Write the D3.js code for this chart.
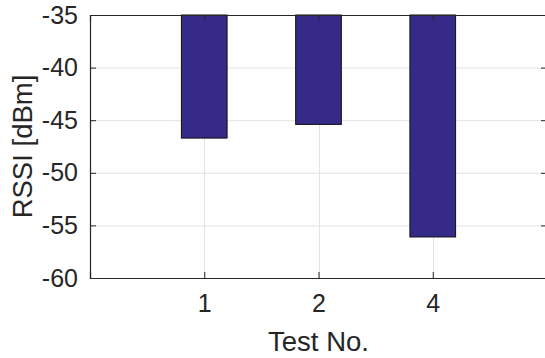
<!DOCTYPE html>
<html>
<head>
<meta charset="utf-8">
<script src="https://cdn.jsdelivr.net/npm/d3@7"></script>
<style>
  body { margin: 0; background: #fff; }
  text { font-family: "Liberation Sans", Arial, sans-serif; fill: #262626; }
</style>
</head>
<body>
<svg id="chart" width="545" height="358"></svg>
<script>
// Data.
const testLabels = ["1", "2", "4"];
const rssiValues = [-46.7, -45.4, -56.1];
const yTicks = [-60, -55, -50, -45, -40, -35];

const width = 545,
      height = 358,
      margin = { top: 15, right: -2, bottom: 80, left: 90 };

const svg = d3.select("#chart");

const plotW = width - margin.left - margin.right;
const plotH = height - margin.top - margin.bottom;

// Categories sit at 1..n, axis runs from 0 to n+1 (MATLAB style).
const x = d3.scaleLinear()
  .domain([0, testLabels.length + 1])
  .range([0, plotW]);

const y = d3.scaleLinear()
  .domain([-60, -35])
  .range([plotH, 0]);

const g = svg.append("g")
  .attr("transform", `translate(${margin.left},${margin.top})`);

const xPos = testLabels.map((d, i) => i + 1);

// Grid lines.
g.append("g")
  .selectAll("line")
  .data(yTicks)
  .join("line")
  .attr("x1", 0)
  .attr("x2", plotW)
  .attr("y1", d => y(d) + 0.5)
  .attr("y2", d => y(d) + 0.5)
  .attr("stroke", "#e3e3e3")
  .attr("stroke-width", 1);

g.append("g")
  .selectAll("line")
  .data(xPos)
  .join("line")
  .attr("x1", d => Math.round(x(d)) + 0.5)
  .attr("x2", d => Math.round(x(d)) + 0.5)
  .attr("y1", 0)
  .attr("y2", plotH)
  .attr("stroke", "#e3e3e3")
  .attr("stroke-width", 1);

// Bars hang down from the top of the axis (base value -35).
const barW = x(0.4) - x(0);
g.append("g")
  .selectAll("rect")
  .data(rssiValues)
  .join("rect")
  .attr("x", (d, i) => x(xPos[i]) - barW / 2)
  .attr("y", y(-35))
  .attr("width", barW)
  .attr("height", d => y(d) - y(-35))
  .attr("fill", "#352a87")
  .attr("stroke", "#111")
  .attr("stroke-width", 1);

// Axes (box with inward ticks).
const yAxis = g.append("g")
  .call(d3.axisLeft(y).tickValues(yTicks).tickSize(-6).tickPadding(12)
    .tickFormat(d => d3.format("d")(d).replace("−", "-")));
const yAxisR = g.append("g")
  .attr("transform", `translate(${plotW},0)`)
  .call(d3.axisRight(y).tickValues(yTicks).tickSize(-6).tickFormat(""));
const xAxis = g.append("g")
  .attr("transform", `translate(0,${plotH})`)
  .call(d3.axisBottom(x).tickValues(xPos).tickSize(-6).tickPadding(16)
    .tickFormat((d, i) => testLabels[i]));
const xAxisT = g.append("g")
  .call(d3.axisTop(x).tickValues(xPos).tickSize(-6).tickFormat(""));

[yAxis, yAxisR, xAxis, xAxisT].forEach(a => {
  a.select(".domain").attr("stroke", "#262626").attr("stroke-width", 1.2);
  a.selectAll(".tick line").attr("stroke", "#262626");
  a.selectAll(".tick text")
    .attr("font-size", 25)
    .attr("font-family", "Liberation Sans, Arial, sans-serif")
    .attr("fill", "#262626");
});
xAxis.selectAll(".tick text").attr("dy", "0.71em");

// Axis titles.
svg.append("text")
  .attr("x", margin.left + x(2))
  .attr("y", 351)
  .attr("text-anchor", "middle")
  .attr("font-size", 27.5)
  .text("Test No.");

svg.append("text")
  .attr("transform", `translate(32,${margin.top + plotH / 2}) rotate(-90)`)
  .attr("text-anchor", "middle")
  .attr("font-size", 27.5)
  .text("RSSI [dBm]");
</script>
</body>
</html>
